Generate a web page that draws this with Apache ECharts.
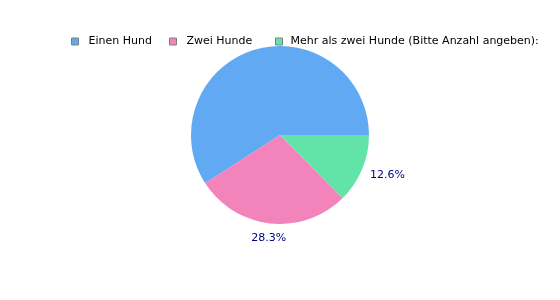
<!DOCTYPE html>
<html>
<head>
<meta charset="utf-8">
<script src="https://cdn.jsdelivr.net/npm/echarts@6/dist/echarts.min.js"></script>
<style>html,body{margin:0;padding:0;background:#fff}#c{width:560px;height:300px}</style>
</head>
<body>
<div id="c"></div>
<script>
var categories = ['Einen Hund', 'Zwei Hunde', 'Mehr als zwei Hunde (Bitte Anzahl angeben):'];
var values = [59.1, 28.3, 12.6];
var colors = ['#62a9f4', '#f283bb', '#62e4a9'];
var showLabel = [false, true, true];

var chart = echarts.init(document.getElementById('c'), null, {renderer: 'canvas'});
var font = 'DejaVu Sans';
var legendLefts = [66, 164, 270];
var legendTextPad = [5, 5, 3];
var legends = categories.map(function (name, i) {
  return {
    data: [name],
    left: legendLefts[i],
    top: 31,
    icon: 'rect',
    itemWidth: 7,
    itemHeight: 7,
    itemStyle: {borderColor: '#808080', borderWidth: 1},
    textStyle: {fontFamily: font, fontSize: 11, color: '#000', padding: [0, 0, 0, legendTextPad[i]]},
    selectedMode: false
  };
});
var mainData = categories.map(function (n, i) {
  return {name: n, value: values[i], itemStyle: {color: colors[i]}};
});
var ringData = categories.map(function (n, i) {
  var d = {name: 'lbl' + i, value: values[i], label: {show: showLabel[i]}};
  if (i === 2) d.label.padding = [0, 0, 0, 24];
  return d;
});
chart.setOption({
  animation: false,
  legend: legends,
  series: [{
    type: 'pie',
    center: [280, 135],
    radius: 89,
    startAngle: 0,
    clockwise: false,
    label: {show: false},
    labelLine: {show: false},
    emphasis: {disabled: true},
    silent: true,
    itemStyle: {borderWidth: 0},
    data: mainData
  }, {
    type: 'pie',
    center: [280, 135],
    radius: [89, 112],
    startAngle: 0,
    clockwise: false,
    silent: true,
    emphasis: {disabled: true},
    itemStyle: {color: 'rgba(0,0,0,0)', borderWidth: 0},
    label: {
      position: 'inside',
      fontFamily: font,
      fontSize: 11,
      color: '#000080',
      formatter: function (p) { return p.value.toFixed(1) + '%'; }
    },
    labelLine: {show: false},
    data: ringData
  }]
});
</script>
</body>
</html>
